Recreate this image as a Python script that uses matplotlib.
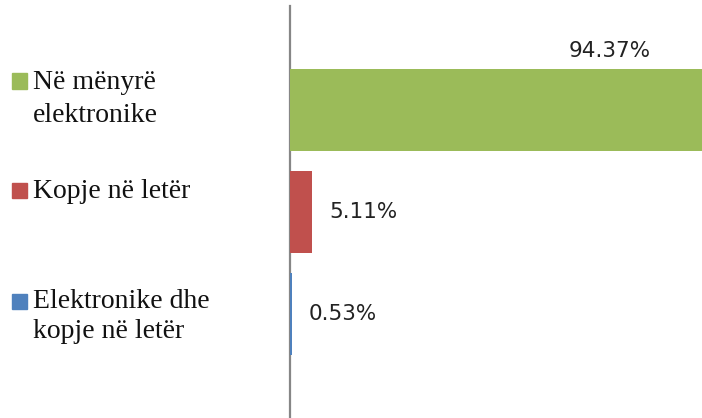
import matplotlib
matplotlib.use("Agg")
import matplotlib.pyplot as plt

# data
categories = ["Në mënyrë\nelektronike", "Kopje në letër", "Elektronike dhe\nkopje në letër"]
values = [94.37, 5.11, 0.53]
labels = ["94.37%", "5.11%", "0.53%"]
colors = ["#9BBB59", "#C0504D", "#4F81BD"]

W, H = 702, 418
fig = plt.figure(figsize=(W / 100, H / 100), dpi=100)
ax = fig.add_axes([290 / W, 0, 1 - 290 / W, 412 / H])

pos = list(range(len(values)))
ax.barh(pos, values, height=0.8, color=colors, zorder=3)
ax.set_xlim(0, 94.37)
ax.set_ylim(3.02, -1.02)

for s in ["top", "right", "bottom"]:
    ax.spines[s].set_visible(False)
ax.spines["left"].set_color("#868686")
ax.spines["left"].set_linewidth(1.6)
ax.spines["left"].set_zorder(2)
ax.set_xticks([])
ax.set_yticks([])

# value labels
ax.text(73.2, -0.58, labels[0], ha="center", va="center",
        fontsize=15.5, color="#222222", family="DejaVu Sans")
for i in (1, 2):
    ax.annotate(labels[i], (values[i], pos[i]), xytext=(12, 0),
                textcoords="offset points", ha="left", va="center",
                fontsize=15.5, color="#222222", family="DejaVu Sans")

# left legend-like labels
text_baselines = [(89, 122), (198,), (308, 338)]
square_y = [81, 190, 301]
for i, cat in enumerate(categories):
    for line, yb in zip(cat.split("\n"), text_baselines[i]):
        fig.text(33 / W, 1 - yb / H, line, ha="left", va="baseline",
                 fontsize=20, color="#111111", family="Liberation Serif")
    fig.patches.append(plt.Rectangle(((19 - 7.5) / W, 1 - (square_y[i] + 7.5) / H),
                                     15 / W, 15 / H, transform=fig.transFigure,
                                     color=colors[i], figure=fig))

fig.savefig("out.png", dpi=100)
